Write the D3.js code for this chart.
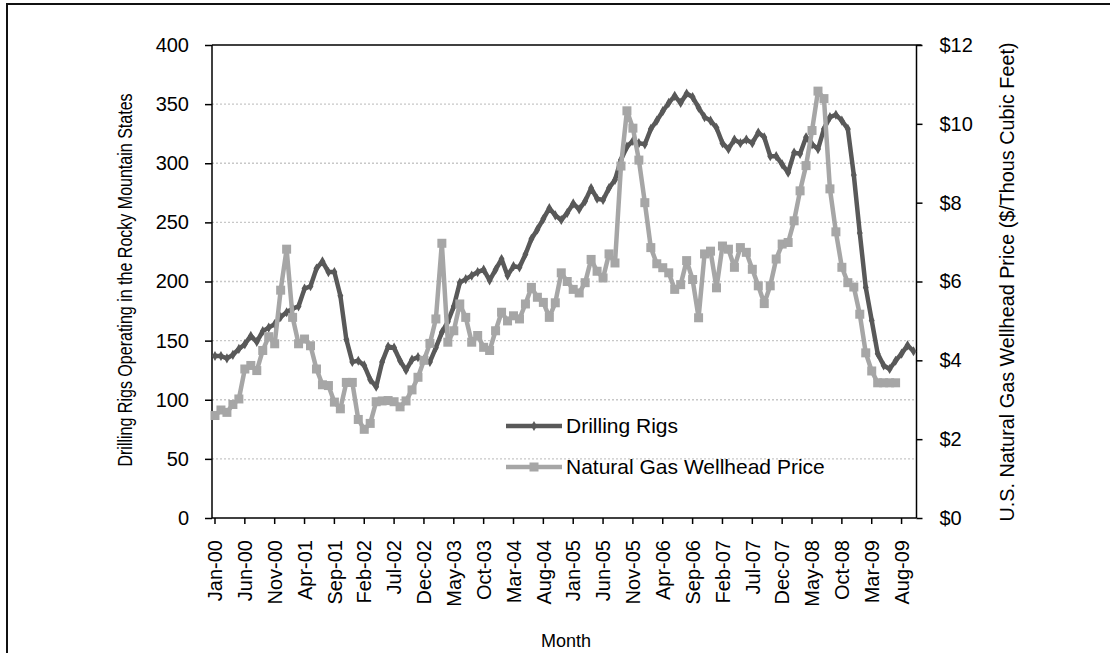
<!DOCTYPE html>
<html><head><meta charset="utf-8">
<script src="https://cdn.jsdelivr.net/npm/d3@7"></script>
<style>body{margin:0;background:#fff}svg{display:block;font-family:"Liberation Sans",Arial,sans-serif}</style>
</head><body>
<svg id="c" width="1110" height="653"></svg>
<script>
const months = [
"Jan-00","Feb-00","Mar-00","Apr-00","May-00","Jun-00","Jul-00","Aug-00","Sep-00","Oct-00","Nov-00","Dec-00",
"Jan-01","Feb-01","Mar-01","Apr-01","May-01","Jun-01","Jul-01","Aug-01","Sep-01","Oct-01","Nov-01","Dec-01",
"Jan-02","Feb-02","Mar-02","Apr-02","May-02","Jun-02","Jul-02","Aug-02","Sep-02","Oct-02","Nov-02","Dec-02",
"Jan-03","Feb-03","Mar-03","Apr-03","May-03","Jun-03","Jul-03","Aug-03","Sep-03","Oct-03","Nov-03","Dec-03",
"Jan-04","Feb-04","Mar-04","Apr-04","May-04","Jun-04","Jul-04","Aug-04","Sep-04","Oct-04","Nov-04","Dec-04",
"Jan-05","Feb-05","Mar-05","Apr-05","May-05","Jun-05","Jul-05","Aug-05","Sep-05","Oct-05","Nov-05","Dec-05",
"Jan-06","Feb-06","Mar-06","Apr-06","May-06","Jun-06","Jul-06","Aug-06","Sep-06","Oct-06","Nov-06","Dec-06",
"Jan-07","Feb-07","Mar-07","Apr-07","May-07","Jun-07","Jul-07","Aug-07","Sep-07","Oct-07","Nov-07","Dec-07",
"Jan-08","Feb-08","Mar-08","Apr-08","May-08","Jun-08","Jul-08","Aug-08","Sep-08","Oct-08","Nov-08","Dec-08",
"Jan-09","Feb-09","Mar-09","Apr-09","May-09","Jun-09","Jul-09","Aug-09","Sep-09","Oct-09"];

const rigs = [
137,137,135,138,143,147,154,149,158,161,164,170,
174,177,179,194,196,211,217,208,208,188,151,132,
133,129,117,111,132,145,144,133,125,134,136,134,
132,144,157,166,179,199,202,205,208,210,201,210,
219,205,213,212,223,236,244,253,262,256,252,258,
266,261,268,279,270,269,279,286,303,314,319,317,
316,329,336,344,351,357,351,359,356,347,339,336,
330,317,312,320,317,320,317,326,322,306,306,299,
292,309,308,322,316,312,329,339,341,336,329,290,
241,195,167,139,129,126,133,139,146,141];

const gasPrice = [
2.60,2.74,2.68,2.88,3.02,3.78,3.87,3.74,4.25,4.60,4.42,5.78,
6.82,5.09,4.42,4.54,4.37,3.78,3.38,3.36,2.94,2.77,3.44,3.44,
2.50,2.25,2.40,2.95,2.97,2.98,2.95,2.82,2.97,3.25,3.57,4.00,
4.43,5.05,6.97,4.46,4.75,5.43,5.09,4.46,4.63,4.33,4.25,4.75,
5.22,5.00,5.13,5.05,5.43,5.85,5.60,5.47,5.09,5.46,6.22,6.00,
5.80,5.71,5.97,6.56,6.26,6.09,6.70,6.47,8.93,10.33,9.89,9.08,
8.00,6.86,6.45,6.35,6.22,5.80,5.92,6.53,6.05,5.08,6.70,6.77,
5.84,6.90,6.82,6.36,6.86,6.74,6.31,5.89,5.44,5.89,6.57,6.95,
6.99,7.54,8.30,8.94,9.83,10.83,10.64,8.35,7.26,6.36,5.97,5.86,
5.17,4.19,3.73,3.43,3.43,3.43,3.43];

const leftTicks = [0,50,100,150,200,250,300,350,400];
const rightTicks = [0,2,4,6,8,10,12];
const seriesNames = ["Drilling Rigs","Natural Gas Wellhead Price"];
const xTitle = "Month";
const yLeftTitle = "Drilling Rigs Operating in the Rocky Mountain States";
const yRightTitle = "U.S. Natural Gas Wellhead Price ($/Thous Cubic Feet)";

const svg = d3.select("#c");
const L = 212, R = 916.5, T = 45, B = 518;
const cRig = "#595959", cGas = "#a6a6a6";
const FF = "Liberation Sans, Arial, sans-serif";

// outer frame
svg.append("rect").attr("x",7).attr("y",4).attr("width",1120).attr("height",700)
  .attr("fill","none").attr("stroke","#111").attr("stroke-width",2);

const x = d3.scaleBand().domain(months).range([L,R]).padding(0);
const cx = d => x(d) + x.bandwidth()/2;
const yL = d3.scaleLinear().domain([0,400]).range([B,T]);
const yR = d3.scaleLinear().domain([0,12]).range([B,T]);

// gridlines
svg.append("g").selectAll("line").data(leftTicks.filter(v=>v>0 && v<400)).join("line")
  .attr("x1",L).attr("x2",R).attr("y1",d=>yL(d)).attr("y2",d=>yL(d))
  .attr("stroke","#c8c8c8").attr("stroke-width",1.3).attr("stroke-dasharray","2,2");

// top border of plot
svg.append("line").attr("x1",L).attr("x2",R+5).attr("y1",T).attr("y2",T).attr("stroke","#000").attr("stroke-width",1.5);

// axes
const axL = svg.append("g").attr("transform",`translate(${L},0)`)
  .call(d3.axisLeft(yL).tickValues(leftTicks).tickSize(7).tickPadding(16));
const axR = svg.append("g").attr("transform",`translate(${R},0)`)
  .call(d3.axisRight(yR).tickValues(rightTicks).tickSize(6).tickPadding(17).tickFormat(d=>"$"+d));
const tickMonths = months.filter((m,i)=>i%5===0);
const axB = svg.append("g").attr("transform",`translate(0,${B})`)
  .call(d3.axisBottom(x).tickValues(tickMonths).tickSize(6).tickSizeOuter(0).tickPadding(8));
axB.selectAll("text").attr("transform","rotate(-90)").attr("text-anchor","end")
  .attr("x",-22).attr("y",0).attr("dy","0.36em");
[axL,axR,axB].forEach(a=>{
  a.selectAll("path,line").attr("stroke","#000").attr("stroke-width",1.5);
  a.selectAll("text").attr("font-size",20).attr("fill","#000").attr("font-family",FF);
});
axL.select(".domain").attr("d",`M0,${B}V${T}`);
axR.select(".domain").attr("d",`M0,${B}V${T}`);
axB.select(".domain").attr("d",`M${L},0H${R}`);

// lines
const lineR = d3.line().x((d,i)=>cx(months[i])).y(d=>yL(d));
const lineG = d3.line().x((d,i)=>cx(months[i])).y(d=>yR(d));
svg.append("path").datum(rigs).attr("d",lineR).attr("fill","none").attr("stroke",cRig).attr("stroke-width",4.5).attr("stroke-linejoin","round");
svg.append("g").selectAll("path").data(rigs).join("path")
  .attr("d",d3.symbol(d3.symbolDiamond,30)).attr("fill",cRig)
  .attr("transform",(d,i)=>`translate(${cx(months[i])},${yL(d)})`);
svg.append("path").datum(gasPrice).attr("d",lineG).attr("fill","none").attr("stroke",cGas).attr("stroke-width",4.5).attr("stroke-linejoin","round");
svg.append("g").selectAll("rect").data(gasPrice).join("rect")
  .attr("x",(d,i)=>cx(months[i])-4.5).attr("y",d=>yR(d)-4.5).attr("width",9).attr("height",9).attr("fill",cGas);

// legend
const lg = svg.append("g");
[[cRig,426],[cGas,467]].forEach(([c,yy],k)=>{
  lg.append("line").attr("x1",506).attr("x2",562).attr("y1",yy).attr("y2",yy).attr("stroke",c).attr("stroke-width",4.5);
  if(k===0) lg.append("path").attr("d",d3.symbol(d3.symbolDiamond,30)).attr("fill",c).attr("transform",`translate(534,${yy})`);
  else lg.append("rect").attr("x",529.5).attr("y",yy-4.5).attr("width",9).attr("height",9).attr("fill",c);
  lg.append("text").attr("x",566).attr("y",yy+7).attr("font-size",21).attr("fill","#000").text(seriesNames[k]);
});

// titles
svg.append("text").attr("x",566).attr("y",647).attr("text-anchor","middle").attr("font-size",18).text(xTitle);
svg.append("text").attr("transform",`translate(132,280) rotate(-90) scale(0.81,1)`).attr("text-anchor","middle").attr("font-size",19.8).text(yLeftTitle);
svg.append("text").attr("transform",`translate(1014,282) rotate(-90)`).attr("text-anchor","middle").attr("font-size",19.8).text(yRightTitle);
</script>
</body></html>
